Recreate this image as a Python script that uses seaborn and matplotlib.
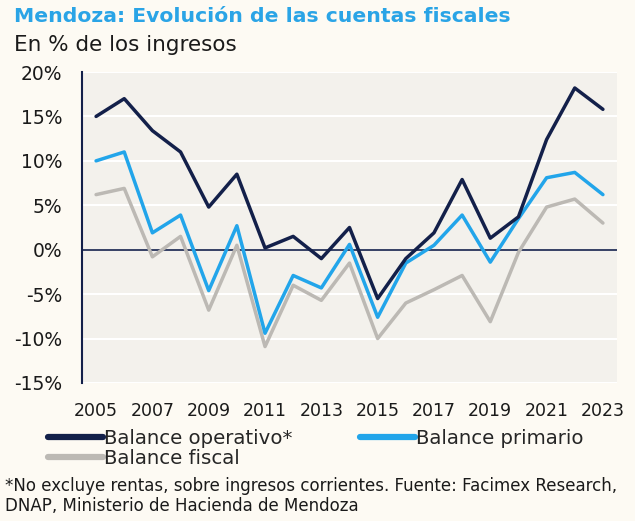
import matplotlib
matplotlib.use("Agg")
import matplotlib.pyplot as plt
import seaborn as sns
import pandas as pd
from matplotlib.lines import Line2D

years = list(range(2005, 2024))
operativo = [15.0, 17.0, 13.4, 11.0, 4.8, 8.5, 0.2, 1.5, -1.0, 2.5, -5.5, -1.0, 1.9, 7.9, 1.3, 3.7, 12.4, 18.2, 15.8]
primario = [10.0, 11.0, 1.9, 3.9, -4.6, 2.7, -9.4, -2.9, -4.3, 0.6, -7.6, -1.5, 0.5, 3.9, -1.4, 3.5, 8.1, 8.7, 6.2]
fiscal = [6.2, 6.9, -0.8, 1.5, -6.8, 0.5, -10.9, -4.0, -5.7, -1.5, -10.0, -6.0, -4.5, -2.9, -8.1, -0.3, 4.8, 5.7, 3.0]

series_names = ["Balance operativo*", "Balance primario", "Balance fiscal"]
colors = {"Balance operativo*": "#13204a", "Balance primario": "#22a5ea", "Balance fiscal": "#bcb9b4"}
ytick_vals = [-15, -10, -5, 0, 5, 10, 15, 20]
xtick_vals = list(range(2005, 2024, 2))

title = "Mendoza: Evolución de las cuentas fiscales"
subtitle = "En % de los ingresos"
footnote = ("*No excluye rentas, sobre ingresos corrientes. Fuente: Facimex Research,\n"
            "DNAP, Ministerio de Hacienda de Mendoza")

df = pd.DataFrame({
    "year": years * 3,
    "value": operativo + primario + fiscal,
    "serie": [series_names[0]] * len(years) + [series_names[1]] * len(years) + [series_names[2]] * len(years),
})

sns.set_style("white")
plt.rcParams["font.family"] = ["DejaVu Sans"]

fig = plt.figure(figsize=(6.35, 5.21), dpi=100)
fig.patch.set_facecolor("#fdfaf3")
ax = fig.add_axes([82 / 635, 1 - 383 / 521, (617 - 82) / 635, (383 - 72) / 521])
ax.set_facecolor("#f3f1ec")

for name, z in [(series_names[2], 3), (series_names[1], 4), (series_names[0], 5)]:
    sub = df[df["serie"] == name]
    sns.lineplot(data=sub, x="year", y="value", color=colors[name], lw=2.5, ax=ax,
                 zorder=z, legend=False)

ax.set_xlim(2004.5, 2023.5)
ax.set_ylim(-15, 20)
ax.set_yticks(ytick_vals)
ax.set_yticklabels([f"{v}%" for v in ytick_vals])
ax.set_xticks(xtick_vals)
ax.set_xticklabels([str(v) for v in xtick_vals])
ax.yaxis.grid(True, color="white", lw=1.5)
ax.xaxis.grid(False)
ax.axhline(0, color="#13204a", lw=1.2, zorder=2)
for s in ["top", "right", "bottom"]:
    ax.spines[s].set_visible(False)
ax.spines["left"].set_color("#13204a")
ax.spines["left"].set_linewidth(1.5)
ax.tick_params(axis="both", length=0, colors="#1a1a1a")
ax.tick_params(axis="x", pad=13.5, labelsize=12.5)
ax.tick_params(axis="y", pad=14, labelsize=13.5)
ax.set_xlabel("")
ax.set_ylabel("")

fig.text(14 / 635, 1 - 17 / 521, title, fontsize=14.7, fontweight="bold", color="#2aa4e6",
         ha="left", va="center")
fig.text(14 / 635, 1 - 45 / 521, subtitle, fontsize=15.5, color="#1a1a1a", ha="left", va="center")

handles = [
    Line2D([0], [0], color=colors[series_names[0]], lw=4.5),
    Line2D([0], [0], color=colors[series_names[2]], lw=4.5),
    Line2D([0], [0], color=colors[series_names[1]], lw=4.5),
]
labels = [series_names[0], series_names[2], series_names[1]]
fig.legend(handles, labels, loc="upper left", bbox_to_anchor=(48 / 635, 1 - 429 / 521),
           ncol=2, frameon=False, fontsize=14.2, handlelength=2.8, handletextpad=0.05,
           columnspacing=3.4, labelspacing=0.05, borderaxespad=0, borderpad=0)

fig.text(5 / 635, 1 - 496 / 521, footnote, fontsize=12.0, color="#1a1a1a", ha="left", va="center",
         linespacing=1.15)

fig.savefig("out.png", dpi=100, facecolor=fig.get_facecolor())
